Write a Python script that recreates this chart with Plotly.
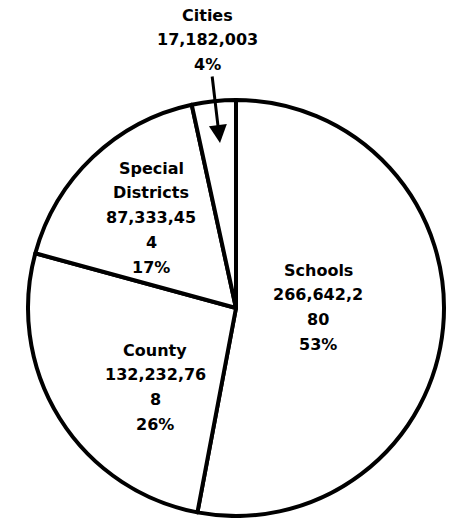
import plotly.graph_objects as go

# ---- data ----
categories = ["Schools", "County", "Special Districts", "Cities"]
values = [266642280, 132232768, 87333454, 17182003]
label_lines = [["Schools"], ["County"], ["Special", "Districts"], ["Cities"]]
pct_labels = ["53%", "26%", "17%", "4%"]

# ---- layout helpers ----
W, H = 449, 518
wrap_widths = [9, 10, 9, None]
text_x_px = [318, 155, 151, 207]
text_top_px = [270, 350, 168, 15]
line_step = 24.8

FONT = dict(family="DejaVu Sans", size=16, color="#000000", weight="bold")


def chunk(s, n):
    if n is None:
        return [s]
    return [s[i:i + n] for i in range(0, len(s), n)]


fig = go.Figure(
    go.Pie(
        labels=categories,
        values=values,
        sort=False,
        direction="clockwise",
        rotation=0,
        marker=dict(colors=["white"] * len(values), line=dict(color="black", width=4)),
        textinfo="none",
        hoverinfo="label+value+percent",
        showlegend=False,
        domain=dict(x=[(236 - 208) / W, (236 + 208) / W], y=[1 - 516 / H, 1 - 100 / H]),
    )
)

annotations = []
for i, cat in enumerate(categories):
    lines = list(label_lines[i]) + chunk(f"{values[i]:,}", wrap_widths[i]) + [pct_labels[i]]
    for j, ln in enumerate(lines):
        y_px = text_top_px[i] + j * line_step
        annotations.append(
            dict(
                text=ln,
                x=text_x_px[i] / W,
                y=1 - y_px / H,
                xref="paper",
                yref="paper",
                xanchor="center",
                yanchor="middle",
                showarrow=False,
                font=FONT,
            )
        )

# arrow from the Cities label to its slice
annotations.append(
    dict(
        text="",
        x=220 / W,
        y=1 - 143 / H,
        xref="paper",
        yref="paper",
        ax=-8,
        ay=-68,
        showarrow=True,
        arrowhead=2,
        arrowsize=1.2,
        arrowwidth=3,
        arrowcolor="black",
        standoff=0,
    )
)

fig.update_layout(
    width=W,
    height=H,
    margin=dict(l=0, r=0, t=0, b=0),
    paper_bgcolor="white",
    plot_bgcolor="white",
    annotations=annotations,
)

fig.write_html("out.html")
